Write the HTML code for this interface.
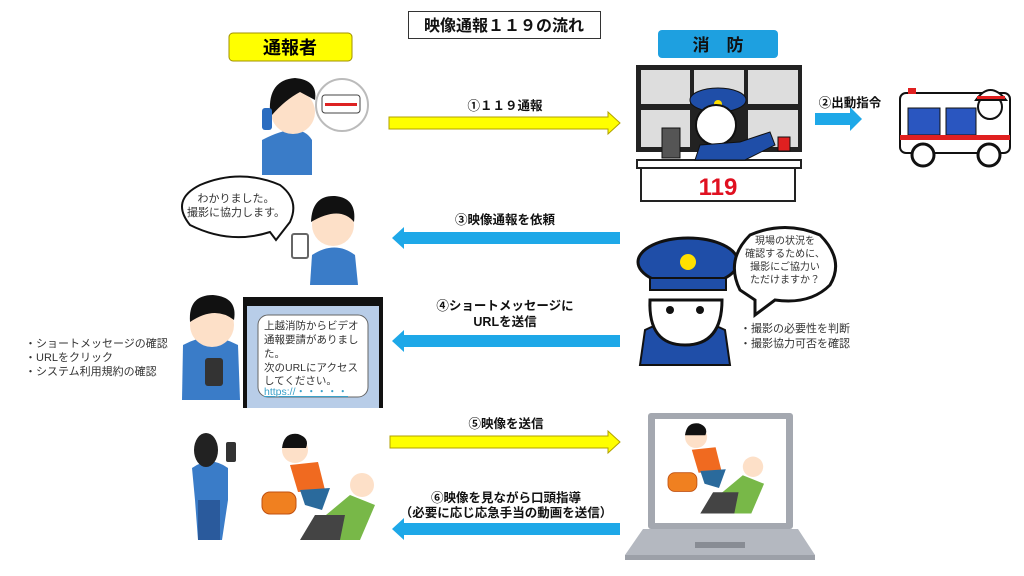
<!DOCTYPE html>
<html><head><meta charset="utf-8"><style>
html,body{margin:0;padding:0;background:#fff;width:1024px;height:576px;overflow:hidden}
svg{position:absolute;left:0;top:0}
text{font-family:"Liberation Sans","Noto Sans CJK JP",sans-serif}
</style></head><body>
<svg width="1024" height="576" viewBox="0 0 1024 576" xmlns="http://www.w3.org/2000/svg">
<defs>
<clipPath id="scr"><rect x="655" y="419" width="131" height="104"/></clipPath>
</defs>
<!-- title -->
<rect x="408.5" y="11.5" width="192" height="27" fill="#fff" stroke="#333"/>
<text x="504" y="31" font-size="16" font-weight="bold" text-anchor="middle" fill="#111">映像通報１１９の流れ</text>
<!-- headers -->
<rect x="229" y="33" width="123" height="28" rx="4" fill="#ffff00" stroke="#a09000"/>
<text x="290" y="54" font-size="18" font-weight="bold" text-anchor="middle">通報者</text>
<rect x="658" y="30" width="120" height="28" rx="4" fill="#1ea0e0"/>
<text x="718" y="51" font-size="17" font-weight="bold" text-anchor="middle" fill="#111">消　防</text>

<!-- arrows -->
<g stroke-width="1">
<polygon points="389,117 608,117 608,112 620,123 608,134 608,129 389,129" fill="#ffff00" stroke="#b0a000"/>
<polygon points="815,113 850,113 850,107 862,119 850,131 850,125 815,125" fill="#1ea8e8"/>
<polygon points="620,232 404,232 404,227 392,238 404,249 404,244 620,244" fill="#1ea8e8"/>
<polygon points="620,335 404,335 404,330 392,341 404,352 404,347 620,347" fill="#1ea8e8"/>
<polygon points="390,436 608,436 608,431 620,442 608,453 608,448 390,448" fill="#ffff00" stroke="#b0a000"/>
<polygon points="620,523 404,523 404,518 392,529 404,540 404,535 620,535" fill="#1ea8e8"/>
</g>
<g font-size="12.5" font-weight="bold" text-anchor="middle" fill="#111">
<text x="505" y="110">①１１９通報</text>
<text x="850" y="107">②出動指令</text>
<text x="505" y="224">③映像通報を依頼</text>
<text x="505" y="310">④ショートメッセージに</text>
<text x="505" y="326">URLを送信</text>
<text x="506" y="428">⑤映像を送信</text>
<text x="506" y="502">⑥映像を見ながら口頭指導</text>
<text x="506" y="517">（必要に応じ応急手当の動画を送信）</text>
</g>

<!-- person 1 on phone -->
<path d="M262 175 L262 140 Q300 120 312 140 L312 175Z" fill="#3a7cc8"/>
<circle cx="293" cy="112" r="22" fill="#fde0c8"/>
<path d="M270 112 Q268 80 295 78 Q318 80 315 100 L300 92 Q285 100 272 115Z" fill="#111"/>
<rect x="262" y="108" width="10" height="22" rx="3" fill="#2a6cc0"/>
<circle cx="342" cy="105" r="26" fill="#fff" stroke="#bbb" stroke-width="2"/>
<rect x="322" y="95" width="38" height="18" rx="3" fill="#fff" stroke="#444"/>
<rect x="325" y="103" width="32" height="3" fill="#d22"/>
<!-- fire dispatch -->
<rect x="636" y="65" width="166" height="87" fill="#222"/>
<g fill="#ddd"><rect x="641" y="70" width="49" height="34"/><rect x="694" y="70" width="50" height="34"/><rect x="748" y="70" width="50" height="34"/>
<rect x="641" y="110" width="49" height="37"/><rect x="748" y="110" width="50" height="37"/></g>
<rect x="637" y="160" width="164" height="8" fill="#fff" stroke="#222" stroke-width="2"/>
<rect x="641" y="168" width="154" height="33" fill="#fff" stroke="#222" stroke-width="2"/>
<text x="718" y="195" font-size="24" font-weight="bold" fill="#e01020" text-anchor="middle">119</text>
<ellipse cx="718" cy="100" rx="28" ry="12" fill="#1f4ea8" stroke="#111"/>
<circle cx="718" cy="104" r="4" fill="#ffe000"/>
<circle cx="716" cy="125" r="20" fill="#fff" stroke="#111" stroke-width="2"/>
<path d="M695 160 L700 145 L740 142 L770 132 L775 145 L745 160Z" fill="#1f4ea8" stroke="#111"/>
<rect x="662" y="128" width="18" height="30" fill="#555" stroke="#111"/>
<rect x="778" y="137" width="12" height="14" fill="#e02020" stroke="#111"/>
<!-- ambulance -->
<rect x="900" y="93" width="110" height="60" rx="6" fill="#fff" stroke="#111" stroke-width="2"/>
<rect x="908" y="108" width="32" height="27" fill="#2a56c0" stroke="#111"/>
<rect x="946" y="108" width="30" height="27" fill="#2a56c0" stroke="#111"/>
<rect x="900" y="135" width="110" height="5" fill="#e02020"/>
<rect x="908" y="88" width="8" height="6" fill="#e02020"/>
<circle cx="923" cy="155" r="11" fill="#fff" stroke="#111" stroke-width="3"/>
<circle cx="989" cy="155" r="11" fill="#fff" stroke="#111" stroke-width="3"/>
<circle cx="990" cy="107" r="12" fill="#fff" stroke="#111" stroke-width="2"/>
<path d="M976 100 Q990 80 1006 100Z" fill="#fff" stroke="#111" stroke-width="2"/>
<rect x="977" y="96" width="28" height="3" fill="#e02020"/>

<!-- speech bubble left -->
<path d="M190 225 Q170 200 200 185 Q240 168 280 185 Q300 200 290 222 L276 240 L270 232 Q230 245 190 225Z" fill="#fff" stroke="#111" stroke-width="2"/>
<text x="236" y="202" font-size="11" text-anchor="middle" fill="#333">わかりました。</text>
<text x="236" y="216" font-size="11" text-anchor="middle" fill="#333">撮影に協力します。</text>
<!-- person 2 -->
<path d="M310 285 L312 255 Q335 240 355 255 L358 285Z" fill="#3a7cc8"/>
<circle cx="333" cy="225" r="21" fill="#fde0c8"/>
<path d="M311 222 Q312 195 335 196 Q357 198 354 222 Q340 205 311 222Z" fill="#111"/>
<rect x="292" y="234" width="16" height="24" rx="2" fill="#fff" stroke="#666" stroke-width="2"/>

<!-- officer -->
<path d="M640 365 L645 330 Q685 310 725 330 L730 365Z" fill="#1f4ea8" stroke="#111" stroke-width="2"/>
<path d="M650 300 Q648 345 685 345 Q722 345 722 300 Z" fill="#fff" stroke="#111" stroke-width="3"/>
<ellipse cx="688" cy="262" rx="50" ry="24" fill="#1f4ea8" stroke="#111" stroke-width="3"/>
<rect x="650" y="278" width="76" height="12" fill="#1f4ea8" stroke="#111" stroke-width="2"/>
<circle cx="688" cy="262" r="8" fill="#ffe000"/>
<circle cx="670" cy="310" r="4" fill="#111"/><circle cx="700" cy="310" r="4" fill="#111"/>
<path d="M740 290 Q725 260 750 235 Q785 220 820 235 Q845 260 830 285 Q810 305 775 300 L755 315 L755 300Z" fill="#fff" stroke="#111" stroke-width="3"/>
<g font-size="10" text-anchor="middle" fill="#333">
<text x="785" y="244">現場の状況を</text><text x="785" y="257">確認するために、</text><text x="785" y="270">撮影にご協力い</text><text x="785" y="283">ただけますか？</text></g>
<g font-size="11" fill="#333"><text x="740" y="332">・撮影の必要性を判断</text><text x="740" y="347">・撮影協力可否を確認</text></g>

<!-- person 3 + phone -->
<path d="M182 400 L183 345 Q210 330 238 345 L240 400Z" fill="#3a7cc8"/>
<circle cx="212" cy="325" r="22" fill="#fde0c8"/>
<path d="M190 322 Q188 295 213 295 Q238 297 234 320 Q215 305 190 322Z" fill="#111"/>
<rect x="205" y="358" width="18" height="28" rx="3" fill="#333"/>
<rect x="243" y="297" width="140" height="111" fill="#111"/>
<rect x="247" y="306" width="132" height="102" fill="#b8cde8"/>
<rect x="258" y="315" width="110" height="82" rx="10" fill="#fff" stroke="#666"/>
<g font-size="10.5" fill="#333"><text x="264" y="329">上越消防からビデオ</text><text x="264" y="343">通報要請がありまし</text><text x="264" y="357">た。</text><text x="264" y="371">次のURLにアクセス</text><text x="264" y="384">してください。</text>
<text x="264" y="395" fill="#3aa0c8" text-decoration="underline">https://・・・・・</text></g>
<g font-size="11" fill="#333"><text x="25" y="347">・ショートメッセージの確認</text><text x="25" y="361">・URLをクリック</text><text x="25" y="375">・システム利用規約の確認</text></g>

<!-- person filming -->
<path d="M192 468 Q210 455 228 468 L228 500 L222 540 L198 540 L195 500Z" fill="#3a7cc8"/>
<rect x="198" y="500" width="22" height="40" fill="#2a5a9c"/>
<ellipse cx="206" cy="450" rx="12" ry="17" fill="#222"/>
<rect x="226" y="442" width="10" height="20" rx="2" fill="#333"/>
<!-- cpr scene -->
<g>
<circle cx="295" cy="450" r="13" fill="#fde0c8"/><path d="M282 448 Q284 432 298 434 Q310 438 306 448Z" fill="#111"/>
<path d="M290 465 L318 462 L325 490 L298 492Z" fill="#f06a20"/>
<path d="M300 490 L330 488 L322 510 L305 505Z" fill="#2a6a9c"/>
<rect x="262" y="492" width="34" height="22" rx="8" fill="#f08020" stroke="#c05010"/>
<path d="M320 520 L350 495 L375 505 L360 540 L312 540Z" fill="#78b848"/>
<path d="M300 540 L315 515 L345 515 L340 540Z" fill="#444"/>
<circle cx="362" cy="485" r="12" fill="#fde0c8"/>
</g>
<!-- laptop -->
<rect x="648" y="413" width="145" height="116" rx="3" fill="#a4a8b0"/>
<rect x="655" y="419" width="131" height="104" fill="#fff"/>
<polygon points="643,529 798,529 815,555 625,555" fill="#b4b8c0"/>
<rect x="625" y="555" width="190" height="5" fill="#9ca0a8"/>
<rect x="695" y="542" width="50" height="6" fill="#888c94"/>
<g clip-path="url(#scr)">
<g transform="translate(668,420) scale(0.85) translate(-262,-430)">
<circle cx="295" cy="450" r="13" fill="#fde0c8"/><path d="M282 448 Q284 432 298 434 Q310 438 306 448Z" fill="#111"/>
<path d="M290 465 L318 462 L325 490 L298 492Z" fill="#f06a20"/>
<path d="M300 490 L330 488 L322 510 L305 505Z" fill="#2a6a9c"/>
<rect x="262" y="492" width="34" height="22" rx="8" fill="#f08020" stroke="#c05010"/>
<path d="M320 520 L350 495 L375 505 L360 540 L312 540Z" fill="#78b848"/>
<path d="M300 540 L315 515 L345 515 L340 540Z" fill="#444"/>
<circle cx="362" cy="485" r="12" fill="#fde0c8"/>
</g>
</g>
</svg>
</body></html>
